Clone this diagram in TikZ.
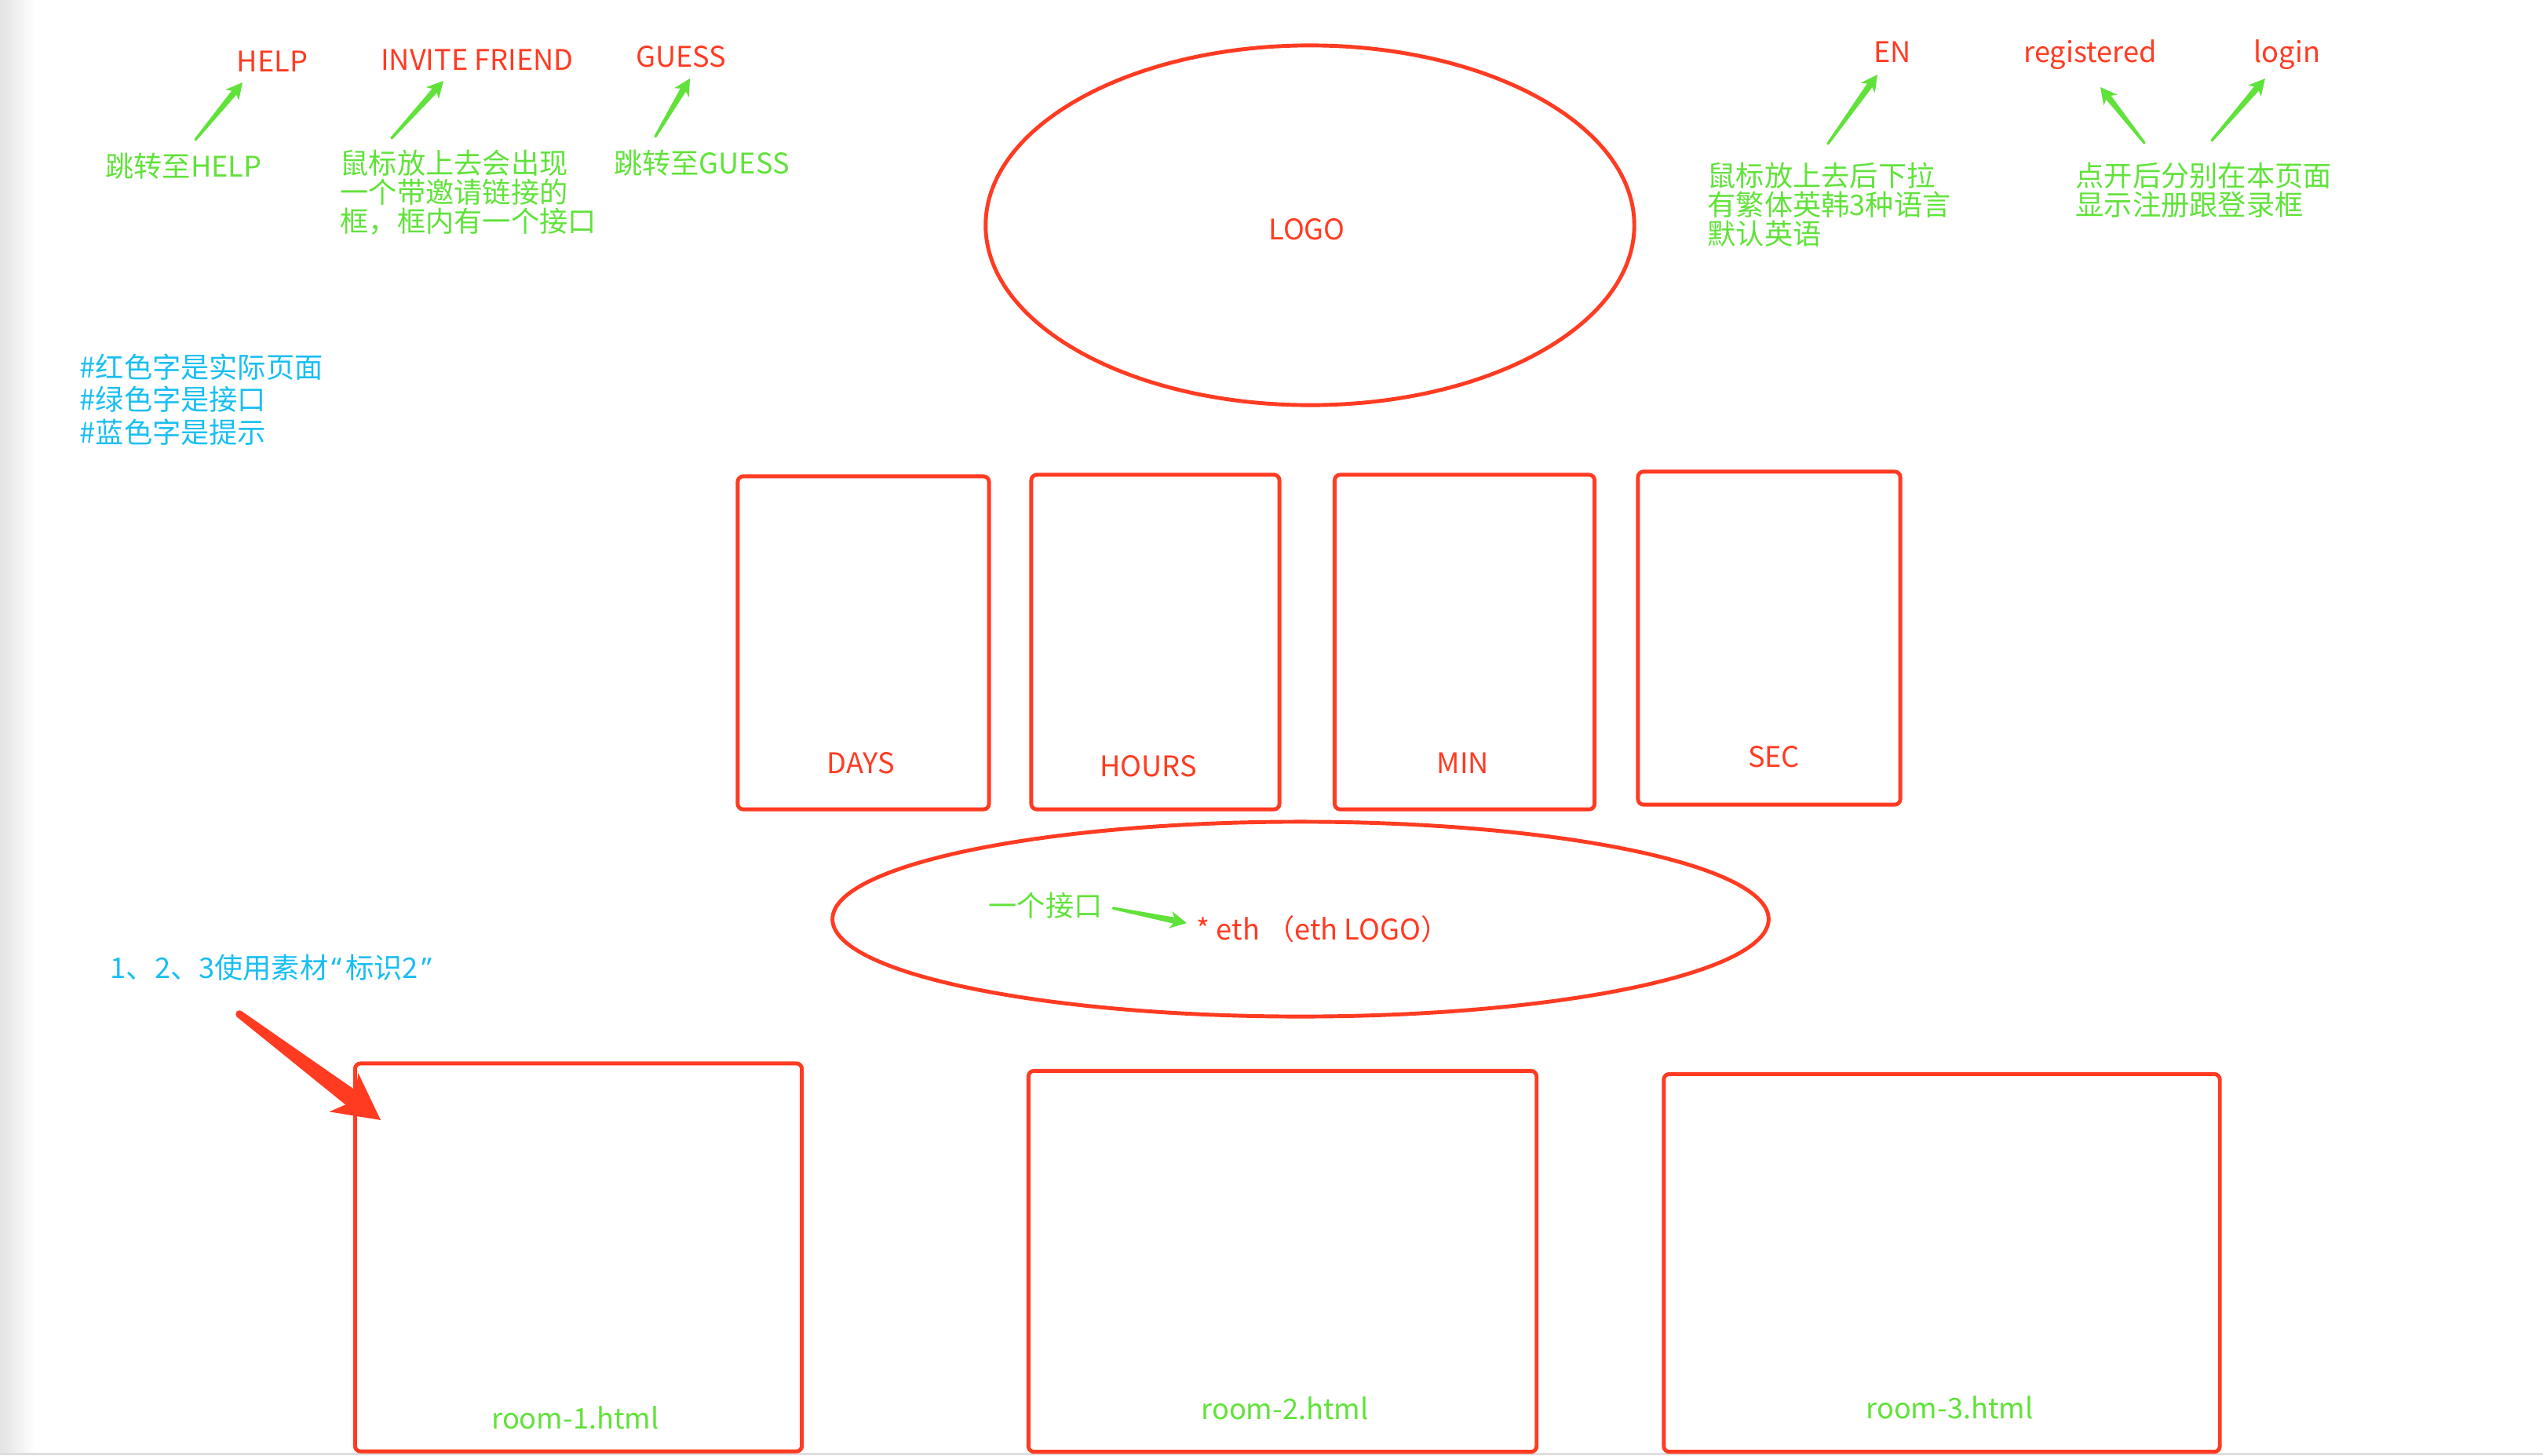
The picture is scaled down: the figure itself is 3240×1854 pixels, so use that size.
\documentclass[tikz,border=0pt]{standalone}
\usepackage{fontspec}
\setmainfont{Noto Sans CJK SC}
\newfontfamily\quotefont{Noto Sans}
\usetikzlibrary{shapes.geometric,positioning,calc}

\definecolor{pagered}{HTML}{FF3B22}
\definecolor{apigreen}{HTML}{60E23A}
\definecolor{tipblue}{HTML}{18BEF2}

\tikzset{
  frame/.style={draw=pagered, line width=1.4pt, rounded corners=2pt, inner sep=0pt},
  oval/.style={draw=pagered, line width=1.4pt, ellipse, inner sep=0pt},
  redtxt/.style={text=pagered, font=\fontsize{10.3}{12}\selectfont, inner sep=0pt, anchor=base},
  greentxt/.style={text=apigreen, font=\fontsize{10.3}{10.5}\selectfont, inner sep=0pt, align=left},
  bluetxt/.style={text=tipblue, font=\fontsize{10.3}{11.8}\selectfont, inner sep=0pt, align=left},
}

% tapered arrow: colour, tail, tip, size
\newcommand\skarrow[4]{%
  \coordinate (sk-b) at ($(#3)!#4*2.1mm!(#2)$);
  \coordinate (sk-j) at ($(#3)!#4*1.7mm!(#2)$);
  \fill[#1] (#2) circle [radius=#4*0.17mm];
  \fill[#1] ($(#2)!#4*0.17mm!90:(#3)$) -- ($(sk-j)!#4*0.4mm!90:(#3)$)
    -- ($(sk-b)!#4*1.1mm!90:(#3)$) -- (#3) -- ($(sk-b)!#4*1.1mm!-90:(#3)$)
    -- ($(sk-j)!#4*0.4mm!-90:(#3)$) -- ($(#2)!#4*0.17mm!-90:(#3)$) -- cycle;}

\begin{document}
\begin{tikzpicture}[x=0.01cm, y=-0.01cm]
\useasboundingbox (0,0) rectangle (3240,1854);
\shade[left color=black!11, right color=white] (0,0) rectangle (45,1851);
\fill[black!13] (0,1851) rectangle (3240,1854);

% top menu
\node[redtxt] (help) at (347,91) {HELP};
\node[redtxt] (invite) at (608,89) {INVITE FRIEND};
\node[redtxt] (guess) at (868,85) {GUESS};
\node[greentxt] (jumphelp) at (234,212) {跳转至HELP};
\node[greentxt, anchor=west] (invitetip) at (433,245) {鼠标放上去会出现\\一个带邀请链接的\\框，框内有一个接口};
\node[greentxt] (jumpguess) at (894,208) {跳转至GUESS};

\node[redtxt] (en) at (2411,79) {EN};
\node[redtxt] (reg) at (2663,79) {registered};
\node[redtxt] (login) at (2914,79) {login};
\node[greentxt, anchor=west] (langtip) at (2175,261) {鼠标放上去后下拉\\有繁体英韩3种语言\\默认英语};
\node[greentxt, anchor=west] (logintip) at (2644,242) {点开后分别在本页面\\显示注册跟登录框};

\node[oval, minimum width=8.26cm, minimum height=4.58cm] (logo) at (1669,287) {};
\node[redtxt] (logotxt) at (1665,305) {LOGO};

% legend
\node[bluetxt, anchor=west] (legend) at (101,509) {\#红色字是实际页面\\\#绿色字是接口\\\#蓝色字是提示};

% countdown
\node[frame, minimum width=3.20cm, minimum height=4.24cm] (days) at (1100,819) {};
\node[frame, minimum width=3.16cm, minimum height=4.26cm] (hours) at (1472,818) {};
\node[frame, minimum width=3.31cm, minimum height=4.26cm] (min) at (1866,818) {};
\node[frame, minimum width=3.34cm, minimum height=4.24cm] (sec) at (2254,813) {};
\node[redtxt] at (1097,985) {DAYS};
\node[redtxt] at (1463,989) {HOURS};
\node[redtxt] at (1864,985) {MIN};
\node[redtxt] at (2260,977) {SEC};

% eth
\node[oval, minimum width=11.92cm, minimum height=2.48cm] (ethoval) at (1657,1171) {};
\node[greentxt] (oneapi) at (1332,1154) {一个接口};
\node[redtxt, anchor=base west] (eth) at (1524,1197) {* eth （eth LOGO）};

% rooms
\node[bluetxt, anchor=west] (material) at (140,1233) {1、2、3使用素材\hspace{1.3pt}{\quotefont “}\hspace{1.3pt}标识2\hspace{1.3pt}{\quotefont ”}};
\node[frame, minimum width=5.69cm, minimum height=4.94cm] (room1) at (737,1602) {};
\node[frame, minimum width=6.47cm, minimum height=4.85cm] (room2) at (1634,1607) {};
\node[frame, minimum width=7.08cm, minimum height=4.81cm] (room3) at (2474,1609) {};
\node[redtxt, text=apigreen] at (733,1820) {room-1.html};
\node[redtxt, text=apigreen] at (1637,1808) {room-2.html};
\node[redtxt, text=apigreen] at (2484,1807) {room-3.html};

% arrows
\coordinate (helpa) at (249,178);   \coordinate (helpb) at (309,105);
\coordinate (invitea) at (499,176); \coordinate (inviteb) at (565,103);
\coordinate (guessa) at (835,174);  \coordinate (guessb) at (879,100);
\coordinate (ena) at (2329,183);    \coordinate (enb) at (2392,95);
\coordinate (rega) at (2732,182);   \coordinate (regb) at (2676,111);
\coordinate (logina) at (2818,179); \coordinate (loginb) at (2886,100);
\coordinate (etha) at (1418,1157);  \coordinate (ethb) at (1512,1176);
\coordinate (rooma) at (305,1292);  \coordinate (roomb) at (485,1427);
\skarrow{apigreen}{helpa}{helpb}{1}
\skarrow{apigreen}{invitea}{inviteb}{1}
\skarrow{apigreen}{guessa}{guessb}{1}
\skarrow{apigreen}{ena}{enb}{1}
\skarrow{apigreen}{rega}{regb}{1}
\skarrow{apigreen}{logina}{loginb}{1}
\skarrow{apigreen}{etha}{ethb}{1}
\skarrow{pagered}{rooma}{roomb}{2.8}
\end{tikzpicture}
\end{document}
